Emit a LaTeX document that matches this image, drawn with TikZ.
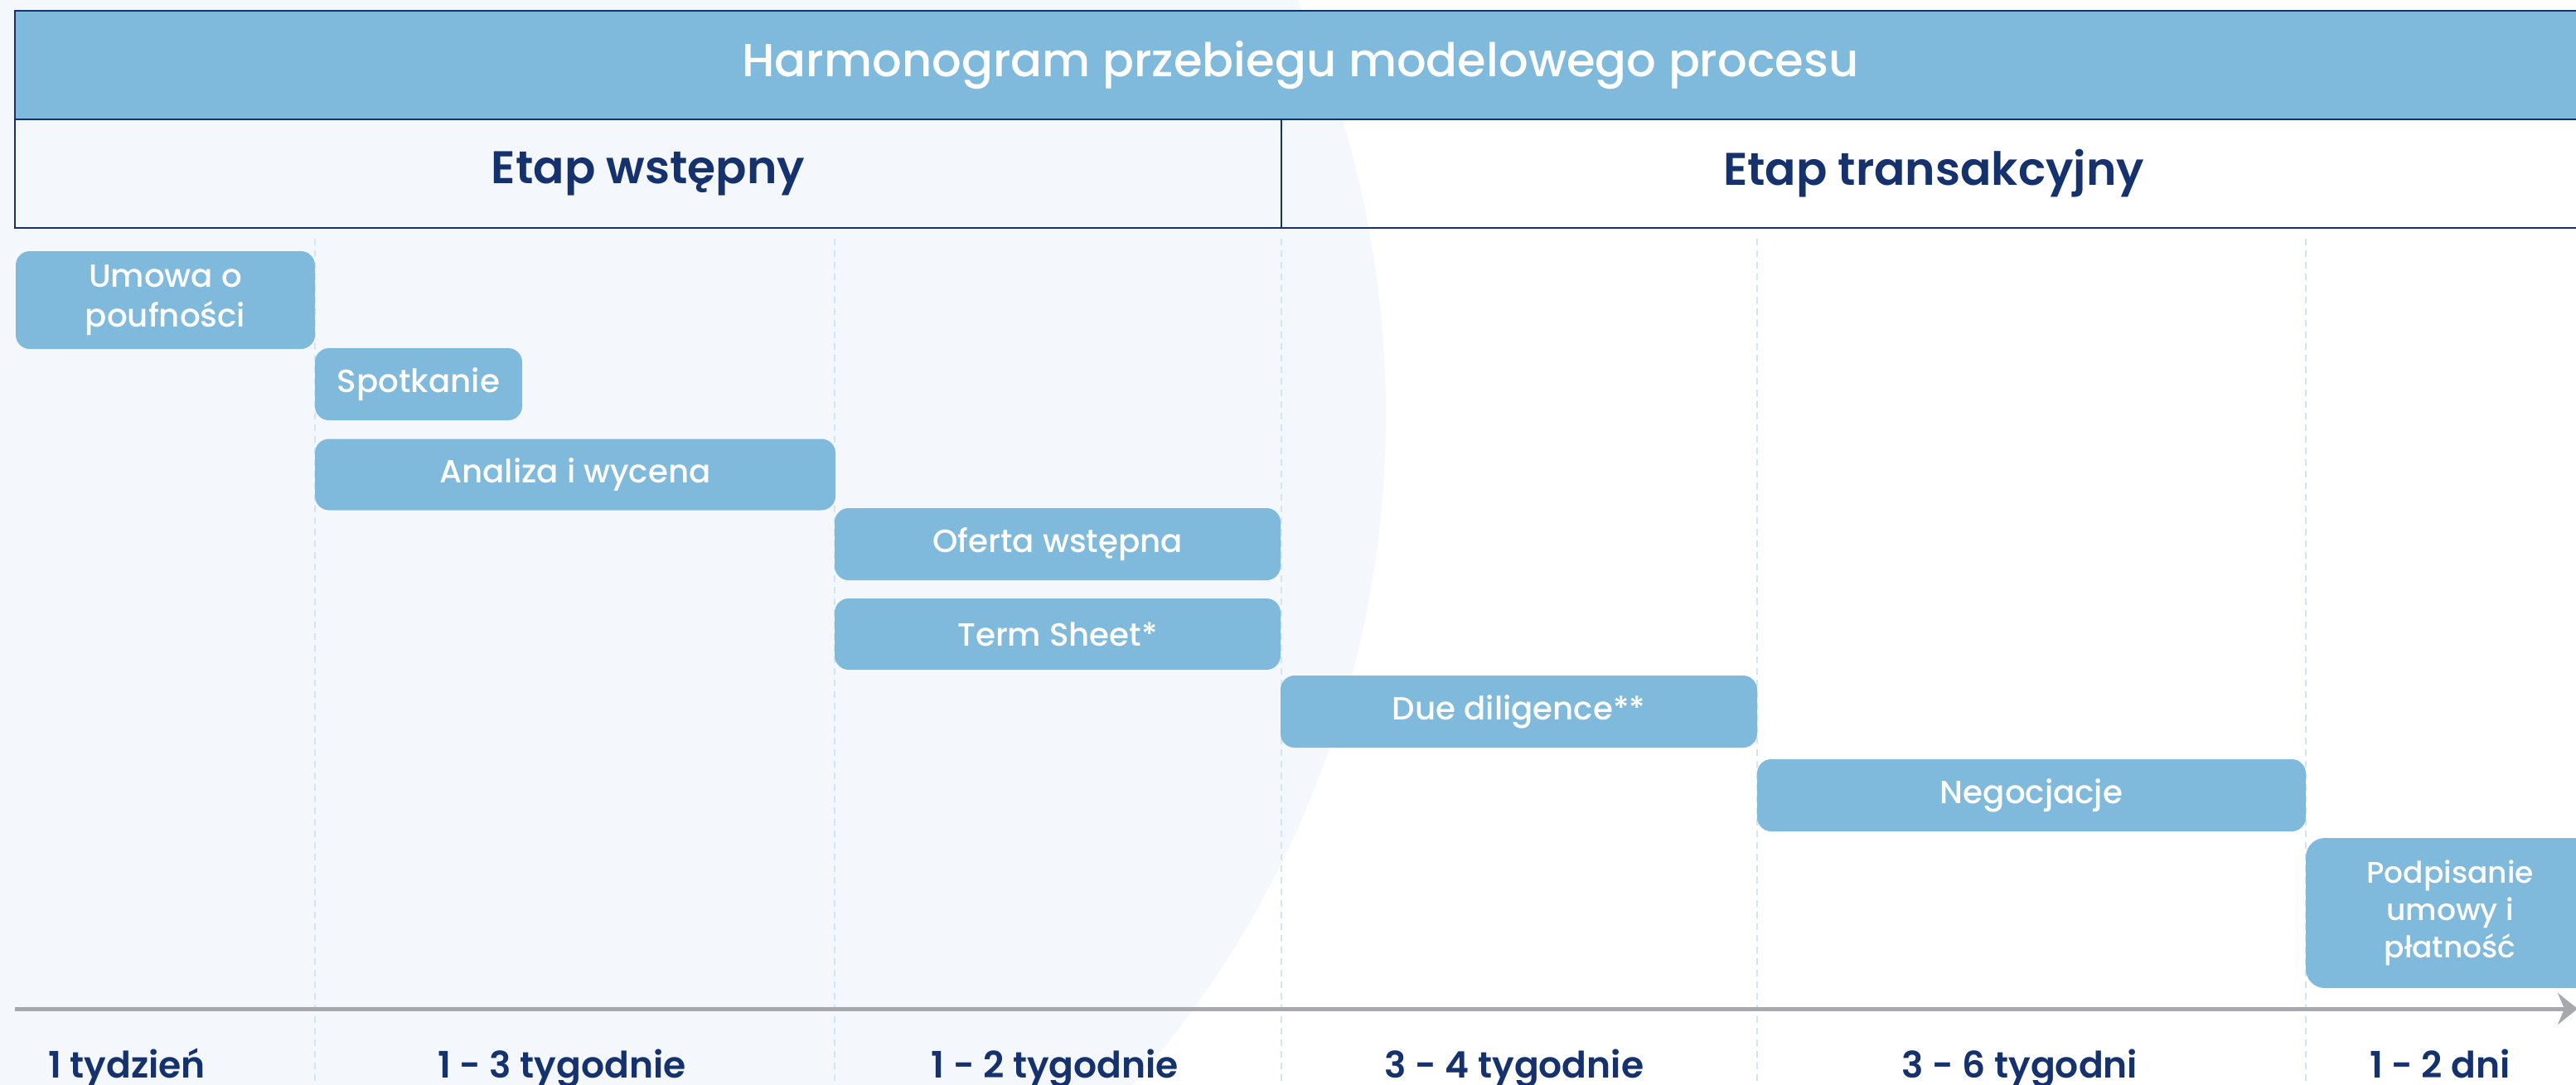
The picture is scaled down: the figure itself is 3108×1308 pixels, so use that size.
\documentclass[tikz,border=0pt]{standalone}
\usepackage{fontspec}
\setmainfont{Poppins}
\newfontfamily\medfont{Poppins Medium}
\newfontfamily\semifont{Poppins SemiBold}
\usepackage{tikz}
\usetikzlibrary{arrows.meta}
\usetikzlibrary{positioning}

\definecolor{navy}{HTML}{16326E}
\definecolor{barblue}{HTML}{7FB9DC}
\definecolor{paleblue}{HTML}{F4F8FC}
\definecolor{gridblue}{HTML}{D3E5F1}
\definecolor{axisgray}{HTML}{A7A8AB}

\begin{document}
\begin{tikzpicture}[x=0.25pt,y=-0.25pt,
                    task/.style={fill=barblue,rounded corners=4.25pt,text=white,align=center,inner sep=0pt,
                                 font=\medfont\fontsize{9.7}{12}\selectfont},
                    cell/.style={draw=navy,line width=0.6pt,inner sep=0pt,minimum height=32.75pt,
                                 text=navy,font=\semifont\fontsize{13.8}{15}\selectfont},
                    span/.style={text=navy,anchor=base,font=\semifont\fontsize{11}{12}\selectfont},
                    grid line/.style={gridblue,line width=0.4pt,dash pattern=on 2pt off 1.5pt}]

  \useasboundingbox (0,0) rectangle (3108,1308);
  \fill[white] (0,0) rectangle (3108,1308);
  \begin{scope}
    \clip (0,0) rectangle (3108,1308);
    \fill[paleblue] (449,500) circle[radius=305.75pt];
  \end{scope}

  % header rows
  \node[cell,fill=barblue,minimum width=775.5pt,text=white,
        font=\medfont\fontsize{14}{15}\selectfont] (title) at (1569,78.5) {Harmonogram przebiegu modelowego procesu};
  \node[cell,minimum width=382pt] (pre) at (782,209.5) {Etap wstępny};
  \node[cell,minimum width=393.5pt] (deal) at (2333,209.5) {Etap transakcyjny};

  \foreach \gx in {380,1007,1546,2120,2782}
    \draw[grid line] (\gx,288) -- (\gx,1308);

  % steps
  \node[task,minimum width=90.25pt,minimum height=29.5pt] (nda) at (199.5,362) {Umowa o\\poufności};
  \node[task,minimum width=62.5pt,minimum height=21.75pt] (meet) at (505,463.5) {Spotkanie};
  \node[task,minimum width=157pt,minimum height=21.5pt] (valuation) at (694,572.5) {Analiza i wycena};
  \node[task,minimum width=134.5pt,minimum height=21.75pt] (offer) at (1276,656.5) {Oferta wstępna};
  \node[task,minimum width=134.5pt,minimum height=21.5pt] (sheet) at (1276,765) {Term Sheet*};
  \node[task,minimum width=143.75pt,minimum height=21.75pt] (dd) at (1832.5,858.5) {Due diligence**};
  \node[task,minimum width=165.5pt,minimum height=21.75pt] (talks) at (2451,959.5) {Negocjacje};
  \node[task,rounded corners=5.75pt,minimum width=87pt,minimum height=45.25pt,
        font=\medfont\fontsize{9}{11.25}\selectfont] (signing) at (2956,1101.5) {Podpisanie\\umowy i\\płatność};

  % time axis
  \coordinate (t0) at (18,1217);
  \coordinate (t1) at (3110,1217);
  \draw[axisgray,line width=1.25pt,-{Stealth[length=6pt,width=9.5pt,inset=2pt]}] (t0) -- (t1);

  \node[span] (w1) at (153,1300) {1 tydzień};
  \node[span] (w2) at (678,1300) {1 - 3 tygodnie};
  \node[span] (w3) at (1273,1300) {1 - 2 tygodnie};
  \node[span] (w4) at (1827,1300) {3 - 4 tygodnie};
  \node[span] (w5) at (2437,1300) {3 - 6 tygodni};
  \node[span] (w6) at (2944,1300) {1 - 2 dni};

\end{tikzpicture}
\end{document}
